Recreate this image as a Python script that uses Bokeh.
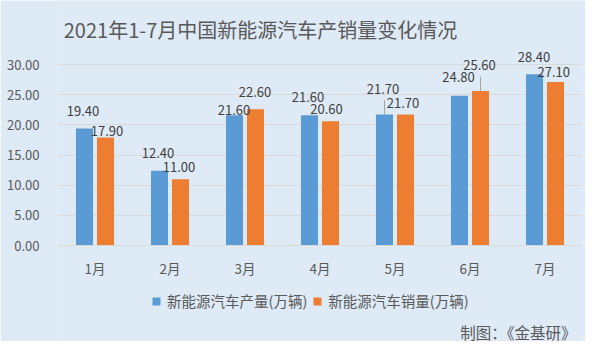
from bokeh.plotting import figure
from bokeh.models import (ColumnDataSource, FactorRange, Range1d, FixedTicker, NumeralTickFormatter,
                          Label, Legend, LegendItem)
from bokeh.transform import dodge
from bokeh.core.properties import value
from bokeh.embed import file_html
from bokeh.resources import INLINE

# ---- data ----
months = ["1月", "2月", "3月", "4月", "5月", "6月", "7月"]
production = [19.4, 12.4, 21.6, 21.6, 21.7, 24.8, 28.4]
sales = [17.9, 11.0, 22.6, 20.6, 21.7, 25.6, 27.1]
y_ticks = [0, 5, 10, 15, 20, 25, 30]
title_text = "2021年1-7月中国新能源汽车产销量变化情况"
series_names = ["新能源汽车产量(万辆)", "新能源汽车销量(万辆)"]
footer_text = "制图：《金基研》"

# ---- label layout (pixel nudges, as in the reference) ----
prod_dx = [-1.5, -1.5, -0.5, -1.5, -1.5, -1, -0.5]
prod_dy = [17.7, 18, 5, 18, 25.6, 18.7, 17.6]
sales_dx = [1.5, -1.5, -0.5, -4, -2.5, -1, -1.7]
sales_dy = [7, 12, 17, 12, 12, 26, 10.4]

FONT = "Noto Sans CJK SC"
BLUE = "#5B9BD5"
ORANGE = "#ED7D31"
BG = "#DEEAF6"
TXT = "#595959"

W_PX, H_PX = 585, 341
ZERO_Y = 245          # pixel row of value 0 (from top)
PX_PER_UNIT = 181 / 30.0

src = ColumnDataSource(dict(
    month=months, prod=production, sales=sales,
    prod_lbl=[f"{v:.2f}" for v in production],
    sales_lbl=[f"{v:.2f}" for v in sales],
    prod_ly=[v + d / PX_PER_UNIT for v, d in zip(production, prod_dy)],
    sales_ly=[v + d / PX_PER_UNIT for v, d in zip(sales, sales_dy)],
    prod_dx=prod_dx, sales_dx=sales_dx,
))

y0 = -(H_PX - ZERO_Y) / PX_PER_UNIT
y1 = ZERO_Y / PX_PER_UNIT
p = figure(width=W_PX, height=H_PX, x_range=FactorRange(*months, range_padding=0),
           y_range=Range1d(y0, y1), output_backend="svg", toolbar_location=None,
           min_border_left=57, min_border_right=3, min_border_top=0, min_border_bottom=0)
p.background_fill_color = BG
p.border_fill_color = BG
p.outline_line_color = None

W = 0.227
r1 = p.vbar(x=dodge("month", -0.14, range=p.x_range), top="prod", width=W, source=src,
            fill_color=BLUE, line_color=None)
r2 = p.vbar(x=dodge("month", 0.14, range=p.x_range), top="sales", width=W, source=src,
            fill_color=ORANGE, line_color=None)

# leader lines for the two displaced labels
LEAD = 2.4
p.segment(x0=dodge("x", -0.14, range=p.x_range), x1=dodge("x", -0.14, range=p.x_range),
          y0="y0", y1="y1",
          source=ColumnDataSource(dict(x=[months[4]], y0=[production[4]], y1=[production[4] + LEAD])),
          line_color="#A6A6A6", line_width=1)
p.segment(x0=dodge("x", 0.14, range=p.x_range), x1=dodge("x", 0.14, range=p.x_range),
          y0="y0", y1="y1",
          source=ColumnDataSource(dict(x=[months[5]], y0=[sales[5]], y1=[sales[5] + LEAD])),
          line_color="#A6A6A6", line_width=1)

for xoff, ly, lbl, dx in [(-0.14, "prod_ly", "prod_lbl", "prod_dx"),
                          (0.14, "sales_ly", "sales_lbl", "sales_dx")]:
    p.text(x=dodge("month", xoff, range=p.x_range), y=ly, text=lbl, source=src,
           x_offset=dx, text_align="center", text_baseline="middle",
           text_font=value(FONT), text_font_size="13px", text_color="#404040")

# axes
p.yaxis.ticker = FixedTicker(ticks=y_ticks)
p.yaxis.formatter = NumeralTickFormatter(format="0.00")
p.yaxis.axis_line_color = None
p.yaxis.major_tick_line_color = None
p.yaxis.minor_tick_line_color = None
p.yaxis.major_label_standoff = 12
p.yaxis.major_label_text_font = FONT
p.yaxis.major_label_text_font_size = "13px"
p.yaxis.major_label_text_color = TXT

p.xaxis.fixed_location = 0
p.xaxis.axis_line_color = "#D9D9D9"
p.xaxis.major_tick_line_color = None
p.xaxis.minor_tick_line_color = None
p.xaxis.major_label_standoff = 6
p.xaxis.major_label_text_font = FONT
p.xaxis.major_label_text_font_size = "13.5px"
p.xaxis.major_label_text_color = TXT

p.xgrid.grid_line_color = None
p.ygrid.grid_line_color = "#D9D9D9"
p.ygrid.ticker = FixedTicker(ticks=y_ticks)

# title
p.add_layout(Label(x=203, y=H_PX - 29, x_units="screen", y_units="screen", text=title_text,
                   text_align="center", text_baseline="middle", text_font=FONT,
                   text_font_size="20px", text_color=TXT))
# footer
p.add_layout(Label(x=519, y=H_PX - 331, x_units="screen", y_units="screen", text=footer_text,
                   text_align="right", text_baseline="middle", text_font=FONT,
                   text_font_size="15.5px", text_color=TXT))

legend = Legend(items=[LegendItem(label=series_names[0], renderers=[r1]),
                       LegendItem(label=series_names[1], renderers=[r2])],
                orientation="horizontal", location=(94, H_PX - 311),
                glyph_width=10, glyph_height=10, label_standoff=6, spacing=5,
                padding=0, margin=0, border_line_color=None, background_fill_alpha=0,
                label_text_font=FONT, label_text_font_size="14.5px", label_text_color=TXT)
p.add_layout(legend, "center")

open("out.html", "w").write(file_html(p, INLINE))
